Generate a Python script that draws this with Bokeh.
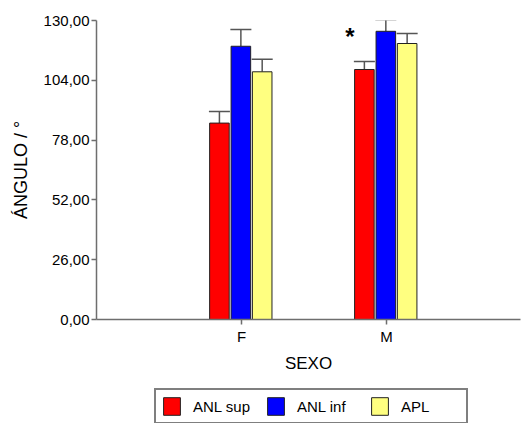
from bokeh.plotting import figure
from bokeh.layouts import column
from bokeh.models import (ColumnDataSource, Range1d, FixedTicker, Legend, LegendItem)
from bokeh.core.properties import value
from bokeh.embed import file_html
from bokeh.resources import INLINE

# ---- data ----
groups = ["F", "M"]
series = ["ANL sup", "ANL inf", "APL"]
anl_sup = [85.4, 108.7]
anl_inf = [118.8, 125.3]
apl = [107.7, 120.0]
anl_sup_err = [5.0, 3.5]
anl_inf_err = [7.3, 5.0]
apl_err = [5.5, 4.3]
y_ticks = [0, 26, 52, 78, 104, 130]
y_tick_labels = ["0,00", "26,00", "52,00", "78,00", "104,00", "130,00"]
star_marks = [("M", "ANL sup")]

colors = ["#FF0000", "#0000FF", "#FFFF80"]
offsets = [-0.152, -0.004, 0.143]
bar_w = 0.135
FONT = "Liberation Sans"

p = figure(width=522, height=375, output_backend="svg", toolbar_location=None,
           x_range=Range1d(0, 2.925), y_range=Range1d(0, 130),
           min_border_left=96, min_border_right=2, min_border_top=20,
           min_border_bottom=54)
p.outline_line_color = None
p.xgrid.visible = False
p.ygrid.visible = False
p.background_fill_color = "white"
p.border_fill_color = "white"

xpos = list(range(1, len(groups) + 1))
vals_all = [anl_sup, anl_inf, apl]
errs_all = [anl_sup_err, anl_inf_err, apl_err]
sources = []
for i, name in enumerate(series):
    xs = [x + offsets[i] for x in xpos]
    tops = vals_all[i]
    errs = errs_all[i]
    src = ColumnDataSource(dict(
        x=xs, top=tops,
        x0=[x - bar_w / 2 - 0.005 for x in xs], x1=[x + bar_w / 2 + 0.005 for x in xs],
        ytop=[t + e for t, e in zip(tops, errs)],
    ))
    sources.append(src)
    p.segment(x0="x", y0="top", x1="x", y1="ytop", source=src,
              line_color="#555555", line_width=1.5)
    p.segment(x0="x0", y0="ytop", x1="x1", y1="ytop", source=src,
              line_color="#555555", line_width=1.5)
    p.vbar(x="x", top="top", bottom=0, width=bar_w, source=src,
           fill_color=colors[i], line_color="#222222", line_width=1)

# significance star
for g, s in star_marks:
    gi = groups.index(g)
    si = series.index(s)
    sx = xpos[gi] + offsets[si] - bar_w / 2
    sy = vals_all[si][gi] + errs_all[si][gi] + 11
    p.text(x=[sx], y=[sy], text=["*"], text_align="right", text_baseline="middle",
           text_font=value(FONT), text_font_size="24px", text_font_style="bold",
           text_color="black")

# axes
p.xaxis.ticker = FixedTicker(ticks=xpos)
p.xaxis.major_label_overrides = {x: g for x, g in zip(xpos, groups)}
p.yaxis.ticker = FixedTicker(ticks=y_ticks)
p.yaxis.major_label_overrides = {t: l for t, l in zip(y_ticks, y_tick_labels)}
for ax in (p.xaxis, p.yaxis):
    ax.axis_line_color = "#6e6e6e"
    ax.axis_line_width = 1.5
    ax.major_tick_line_color = "#6e6e6e"
    ax.major_tick_line_width = 1.5
    ax.minor_tick_line_color = None
    ax.major_tick_in = 0
    ax.major_tick_out = 5
    ax.major_label_text_font = FONT
    ax.major_label_text_font_size = "15px"
    ax.major_label_text_color = "black"
    ax.axis_label_text_font = FONT
    ax.axis_label_text_font_style = "normal"
    ax.axis_label_text_color = "black"
p.yaxis.major_label_standoff = 2
p.xaxis.major_label_standoff = 3
p.xaxis.axis_label = "SEXO"
p.xaxis.axis_label_text_font_size = "17px"
p.xaxis.axis_label_standoff = 6
p.yaxis.axis_label = "ÁNGULO / °"
p.yaxis.axis_label_text_font_size = "18px"
p.yaxis.axis_label_standoff = 10

# ---- legend in its own strip below (bars kept outside its visible range) ----
lf = figure(width=522, height=48, output_backend="svg", toolbar_location=None,
            x_axis_location=None, y_axis_location=None,
            min_border=0, x_range=Range1d(0, 2.925), y_range=Range1d(1000, 1001))
lf.outline_line_color = None
lf.xgrid.visible = False
lf.ygrid.visible = False
items = []
for i, name in enumerate(series):
    r = lf.vbar(x="x", top="top", bottom=0, width=bar_w, source=sources[i],
                fill_color=colors[i], line_color="#222222", line_width=1)
    items.append(LegendItem(label=name, renderers=[r]))
legend = Legend(items=items, orientation="horizontal", location=(58, -1))
legend.border_line_color = "black"
legend.border_line_width = 2
legend.background_fill_color = "white"
legend.background_fill_alpha = 1
legend.glyph_width = 21
legend.glyph_height = 22
legend.label_standoff = 11
legend.label_width = 60
legend.spacing = 12
legend.padding = 5
legend.margin = 0
legend.label_text_font = FONT
legend.label_text_font_size = "15px"
legend.label_text_color = "black"
lf.add_layout(legend, "center")

layout = column(p, lf, spacing=0)
open("out.html", "w").write(file_html(layout, INLINE))
